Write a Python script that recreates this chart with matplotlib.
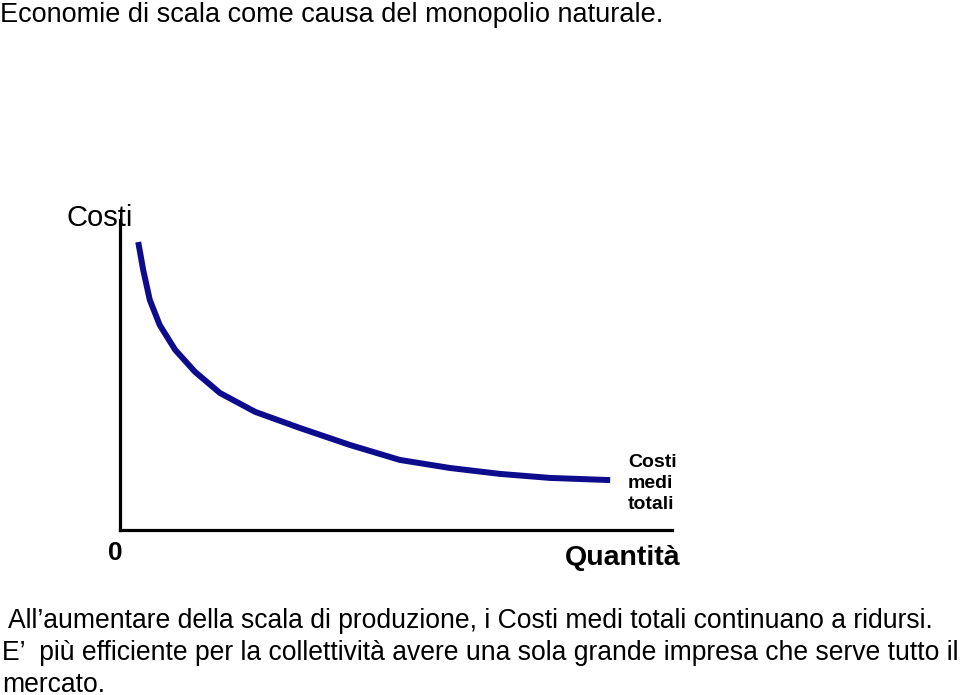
import matplotlib
matplotlib.use("Agg")
import matplotlib.pyplot as plt

plt.rcParams['font.family'] = ['Liberation Sans', 'DejaVu Sans']

# curve of average total cost (quantity, cost)
quantita = [3.3, 4.2, 5.4, 7.2, 10.0, 13.6, 18.1, 24.5, 32.6, 41.7, 50.7, 59.8, 68.8, 77.9, 88.8]
costi = [92.9, 83.9, 74.2, 66.1, 58.1, 51.0, 44.2, 38.1, 32.9, 27.4, 22.6, 20.0, 18.1, 16.8, 16.1]

titolo = "Economie di scala come causa del monopolio naturale."
nota = ["All\u2019aumentare della scala di produzione, i Costi medi totali continuano a ridursi.",
        "E\u2019  più efficiente per la collettività avere una sola grande impresa che serve tutto il",
        "mercato."]

W, H = 960, 695
fig = plt.figure(figsize=(W / 100, H / 100), dpi=100)

# axes placed so the origin sits at pixel (120, 530)
ax = fig.add_axes([120 / W, (H - 530) / H, 552 / W, 310 / H])
ax.plot(quantita, costi, color='#0c0c8c', linewidth=4.3, solid_capstyle='butt')
ax.set_xlim(0, 100)
ax.set_ylim(0, 100)
ax.set_xticks([])
ax.set_yticks([])
for s in ['top', 'right']:
    ax.spines[s].set_visible(False)
for s in ['left', 'bottom']:
    ax.spines[s].set_linewidth(2.3)
    ax.spines[s].set_color('black')

def px(x, y):
    return x / W, 1 - y / H

fig.text(*px(0, 2), titolo, fontsize=19.5, va='top', ha='left')
fig.text(*px(67, 226), "Costi", fontsize=21, va='baseline', ha='left')
fig.text(*px(108, 560), "0", fontsize=19, fontweight='bold', va='baseline', ha='left')
fig.text(*px(565, 565), "Quantità", fontsize=20.5, fontweight='bold', va='baseline', ha='left')
fig.text(*px(628, 454), "Costi\nmedi\ntotali", fontsize=14, fontweight='bold',
         va='top', ha='left', linespacing=1.3)

for i, riga in enumerate(nota):
    x0 = 8 if i == 0 else 2
    fig.text(*px(x0, 628 + i * 32), riga, fontsize=19.1, va='baseline', ha='left')

fig.savefig("out.png", dpi=100)
